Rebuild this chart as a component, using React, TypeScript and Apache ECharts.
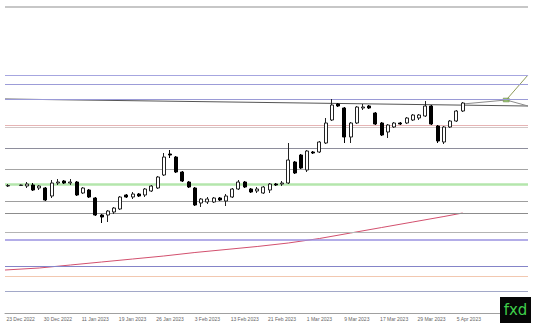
import React, { useEffect, useRef } from "react";
import * as echarts from "echarts";

// ---------- data ----------
const tickLabels = [
  "23 Dec 2022", "30 Dec 2022", "11 Jan 2023", "19 Jan 2023", "26 Jan 2023",
  "3 Feb 2023", "13 Feb 2023", "21 Feb 2023", "1 Mar 2023", "9 Mar 2023",
  "17 Mar 2023", "29 Mar 2023", "5 Apr 2023",
];
const SLOT_COUNT = 84; // daily slots on the x axis (incl. empty future space)
const FIRST_TICK = 2;
const TICK_STEP = 6;

// [open, close, low, high]
const candles: (number | string)[][] = [
  [1427, 1427.5, 1426, 1429],
  ["-", "-", "-", "-"],
  [1427.5, 1428, 1427, 1428.5],
  [1427, 1429, 1425, 1431],
  [1428, 1423, 1422, 1430],
  [1425, 1427, 1423, 1428],
  [1425, 1413, 1412, 1426],
  [1417, 1430, 1415, 1433],
  [1430, 1431, 1428, 1434],
  [1432, 1430, 1429, 1433],
  [1430, 1431, 1428, 1434],
  [1431, 1418, 1417, 1432],
  [1420, 1425, 1419, 1426],
  [1423, 1416, 1415, 1424],
  [1415, 1398, 1397, 1416],
  [1398, 1396, 1390, 1399],
  [1398, 1402, 1391, 1403],
  [1401, 1405, 1399, 1406],
  [1404, 1416, 1403, 1417],
  [1418, 1416, 1415, 1419],
  [1416, 1419, 1414, 1421],
  [1419, 1417, 1416, 1420],
  [1418, 1424, 1416, 1425],
  [1422, 1427, 1421, 1428],
  [1425, 1436, 1424, 1437],
  [1438, 1456, 1437, 1460],
  [1459, 1458, 1455, 1463],
  [1456, 1441, 1440, 1457],
  [1441, 1432, 1431, 1442],
  [1431, 1426, 1425, 1432],
  [1425, 1408, 1407, 1426],
  [1410, 1414, 1406, 1415],
  [1411, 1414, 1409, 1416],
  [1411, 1415, 1410, 1416],
  [1415, 1413, 1412, 1416],
  [1412, 1417, 1407, 1419],
  [1416, 1424, 1415, 1425],
  [1424, 1431, 1423, 1433],
  [1431, 1426, 1425, 1432],
  [1424, 1421, 1420, 1425],
  [1422, 1424, 1420, 1426],
  [1420, 1426, 1419, 1427],
  [1423, 1429, 1420, 1430],
  [1429, 1428, 1427, 1430],
  [1429, 1430, 1427, 1432],
  [1430, 1453, 1429, 1470],
  [1451, 1440, 1439, 1452],
  [1458, 1445, 1444, 1459],
  [1443, 1462, 1441, 1463],
  [1461, 1460, 1459, 1462],
  [1461, 1471, 1460, 1472],
  [1470, 1490, 1469, 1495],
  [1493, 1508, 1492, 1514],
  [1509, 1507, 1506, 1510],
  [1505, 1476, 1470, 1506],
  [1476, 1490, 1470, 1491],
  [1490, 1506, 1489, 1507],
  [1505, 1506, 1503, 1509],
  [1507, 1505, 1504, 1508],
  [1500, 1489, 1488, 1501],
  [1490, 1478, 1477, 1491],
  [1481, 1488, 1475, 1489],
  [1486, 1490, 1485, 1491],
  [1490, 1489, 1488, 1491],
  [1490, 1495, 1489, 1496],
  [1493, 1498, 1492, 1499],
  [1495, 1498, 1493, 1499],
  [1497, 1507, 1496, 1512],
  [1507, 1489, 1488, 1508],
  [1487, 1472, 1470, 1488],
  [1471, 1486, 1469, 1487],
  [1486, 1492, 1485, 1493],
  [1492, 1502, 1491, 1503],
  [1502, 1510, 1501, 1511],
];

// long moving average, read at sparse points [slot, value]
const maPoints = [
  [-0.5, 1343], [5, 1345], [10, 1348], [15, 1351], [20, 1354], [25, 1357],
  [30, 1360.5], [35, 1363.5], [40, 1366.5], [45, 1370], [50, 1374.5],
  [55, 1380], [60, 1385.5], [65, 1391], [70, 1396.5], [73, 1400],
];

// horizontal levels
const levelValues = [1606, 1538, 1529, 1514, 1488, 1486, 1465, 1444, 1429, 1412, 1400, 1381, 1373, 1347, 1337, 1322];
const levelColors = ["#b5b5b5", "#a6a6e0", "#9c9cd8", "#9a9ad6", "#e6b4b4", "#d2c6c6", "#8e8e9c", "#a4a4a4", "#b4e6ac", "#9e9e9e", "#8c8c8c", "#b4b4b4", "#9a92e0", "#8484c8", "#f2c8b0", "#a2a8c8"];
const levelWidths = [1.5, 1.2, 1.2, 1.2, 1, 1, 1, 1, 2.5, 1, 1, 1, 1.5, 1.2, 1, 1.2];

// trend line and projection
const trendLine = [[-0.5, 1514], [83.5, 1507]];
const projection = [[73, 1509], [80, 1513]];
const projectionUp = [[80, 1513], [83.5, 1538]];
const projectionDown = [[80, 1513], [83.5, 1507]];
const projectionPoint = [[80, 1513]];

const Y_MIN = 1300;
const Y_MAX = 1606;

// ---------- chart ----------
const categories: string[] = Array.from({ length: SLOT_COUNT }, (_, i) => {
  const k = (i - FIRST_TICK) / TICK_STEP;
  return Number.isInteger(k) && k >= 0 && k < tickLabels.length ? tickLabels[k] : "";
});

function buildOption(): any {
  return {
    animation: false,
    backgroundColor: "#ffffff",
    grid: { left: 5, right: 7, top: 7, bottom: 17, containLabel: false },
    xAxis: [
      {
        type: "category",
        data: categories,
        boundaryGap: true,
        axisLine: { lineStyle: { color: "#a0a0a0", width: 1 } },
        axisTick: { show: false },
        axisLabel: {
          interval: 0,
          fontSize: 5,
          color: "#666",
          margin: 3,
          fontFamily: "Liberation Sans",
        },
        splitLine: { show: false },
      },
      { type: "value", min: -0.5, max: SLOT_COUNT - 0.5, show: false },
    ],
    yAxis: { type: "value", min: Y_MIN, max: Y_MAX, show: false, scale: true },
    series: [
      {
        name: "MA",
        type: "line",
        xAxisIndex: 1,
        data: maPoints,
        symbol: "none",
        z: 1,
        lineStyle: { color: "#d2506e", width: 1 },
        markLine: {
          silent: true,
          symbol: "none",
          label: { show: false },
          animation: false,
          data: levelValues.map((v, i) => ({
            yAxis: v,
            lineStyle: { color: levelColors[i], width: levelWidths[i], type: "solid" },
          })),
        },
      },
      {
        type: "line",
        xAxisIndex: 1,
        data: trendLine,
        symbol: "none",
        z: 2,
        lineStyle: { color: "#555", width: 1 },
      },
      {
        type: "line",
        xAxisIndex: 1,
        data: projection,
        symbol: "none",
        z: 2,
        lineStyle: { color: "#8a8a8a", width: 1 },
      },
      {
        type: "line",
        xAxisIndex: 1,
        data: projectionUp,
        symbol: "none",
        z: 2,
        lineStyle: { color: "#8e9a5a", width: 1 },
      },
      {
        type: "line",
        xAxisIndex: 1,
        data: projectionDown,
        symbol: "none",
        z: 2,
        lineStyle: { color: "#8a8a8a", width: 1 },
      },
      {
        type: "scatter",
        xAxisIndex: 1,
        data: projectionPoint,
        symbol: "rect",
        symbolSize: [6, 4],
        z: 3,
        itemStyle: { color: "#86b85a", borderColor: "#667a44", borderWidth: 0.5 },
      },
      {
        type: "candlestick",
        xAxisIndex: 0,
        data: candles,
        barWidth: 3.5,
        z: 5,
        itemStyle: {
          color: "#ffffff",
          color0: "#000000",
          borderColor: "#222222",
          borderColor0: "#000000",
          borderWidth: 1,
        },
      },
    ],
    graphic: [
      {
        type: "rect",
        shape: { x: 500, y: 297, width: 31, height: 26 },
        style: { fill: "#060606" },
        z: 100,
      },
      {
        type: "text",
        x: 515.5,
        y: 310,
        style: {
          text: "fxd",
          fill: "#3fcf4a",
          fontSize: 15,
          fontFamily: "DejaVu Sans",
          align: "center",
          verticalAlign: "middle",
        },
        z: 101,
      },
    ],
  };
}

export default function App() {
  const ref = useRef<HTMLDivElement>(null);
  useEffect(() => {
    if (!ref.current) return;
    const chart = echarts.init(ref.current, null, { renderer: "svg" });
    chart.setOption(buildOption());
    return () => chart.dispose();
  }, []);
  return (
    <div
      ref={ref}
      style={{ position: "fixed", left: 0, top: 0, width: 535, height: 330, background: "#fff" }}
    />
  );
}
